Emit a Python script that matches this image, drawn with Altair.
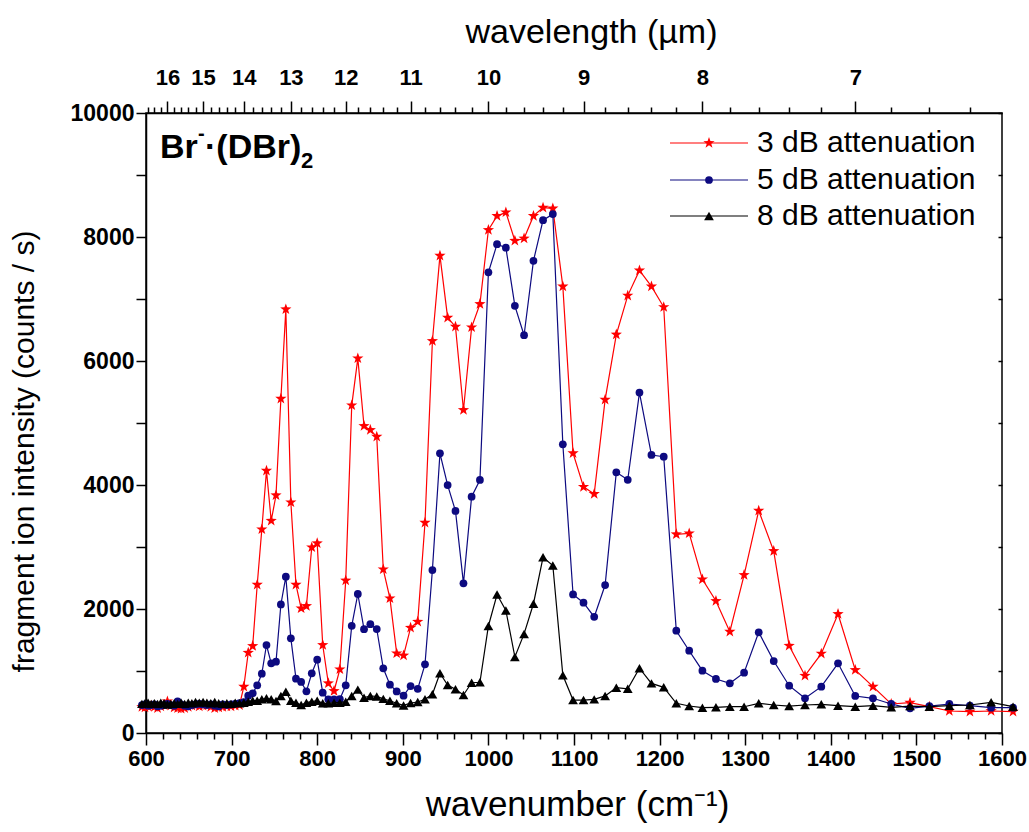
import altair as alt
import pandas as pd

# ---------------- data ----------------
wavelength_um = [16.8, 16.7, 16.6, 16.5, 16.4, 16.3, 16.2, 16.1, 16.0, 15.9, 15.8, 15.7, 15.6, 15.5,
                 15.4, 15.3, 15.2, 15.1, 15.0, 14.9, 14.8, 14.7, 14.6, 14.5, 14.4, 14.3, 14.2, 14.1,
                 14.0, 13.9, 13.8, 13.7, 13.6, 13.5, 13.4, 13.3, 13.2, 13.1, 13.0, 12.9, 12.8, 12.7,
                 12.6, 12.5, 12.4, 12.3, 12.2, 12.1, 12.0, 11.9, 11.8, 11.7, 11.6, 11.5, 11.4, 11.3,
                 11.2, 11.1, 11.0, 10.9, 10.8, 10.7, 10.6, 10.5, 10.4, 10.3, 10.2, 10.1, 10.0, 9.9,
                 9.8, 9.7, 9.6, 9.5, 9.4, 9.3, 9.2, 9.1, 9.0, 8.9, 8.8, 8.7, 8.6, 8.5, 8.4, 8.3, 8.2,
                 8.1, 8.0, 7.9, 7.8, 7.7, 7.6, 7.5, 7.4, 7.3, 7.2, 7.1, 7.0, 6.9, 6.8, 6.7, 6.6, 6.5,
                 6.4, 6.3, 6.2]
wavenumber = [round(1e4 / w, 2) for w in wavelength_um]   # cm^-1

series_names = ["3 dB attenuation", "5 dB attenuation", "8 dB attenuation"]

signal_3dB = [420, 410, 430, 440, 420, 400, 430, 450, 510, 440, 410, 400, 390, 400,
              420, 440, 450, 430, 440, 450, 420, 400, 410, 420, 430, 430, 440, 450,
              747, 1295, 1403, 2392, 3285, 4231, 3424, 3834, 5392, 6834, 3721, 2392, 2011, 2048,
              2995, 3060, 1419, 802, 677, 1027, 2460, 5285, 6043, 4952, 4887, 4779, 2640, 2172,
              1285, 1250, 1698, 1795, 3392, 6323, 7699, 6699, 6554, 5210, 6543, 6919, 8113, 8340,
              8398, 7940, 7976, 8340, 8473, 8461, 7203, 4513, 3970, 3856, 5376, 6427, 7055, 7461,
              7203, 6870, 3205, 3221, 2479, 2129, 1634, 2548, 3586, 2935, 1408, 924, 1280, 1919,
              1016, 747, 468, 489, 424, 355, 344, 355, 344]

signal_5dB = [450, 460, 440, 450, 460, 430, 440, 450, 470, 450, 440, 510, 460, 440,
              430, 450, 460, 470, 460, 450, 460, 440, 430, 460, 450, 460, 470, 480,
              500, 602, 640, 769, 956, 1419, 1124, 1150, 2073, 2521, 1527, 876, 823, 672,
              963, 1182, 650, 543, 543, 545, 770, 1728, 2242, 1675, 1755, 1677, 1043, 780,
              670, 602, 758, 712, 1108, 2629, 4511, 3999, 3581, 2414, 3812, 4081, 7430, 7884,
              7827, 6890, 6416, 7616, 8272, 8369, 4656, 2234, 2102, 1873, 2387, 4205, 4084, 5490,
              4484, 4457, 1650, 1327, 1005, 871, 802, 973, 1624, 1161, 763, 560, 747, 1124,
              597, 560, 468, 398, 435, 468, 441, 408, 408]

signal_8dB = [470, 480, 490, 470, 480, 470, 490, 480, 460, 470, 480, 470, 490, 470,
              490, 480, 500, 490, 500, 490, 480, 500, 480, 470, 480, 470, 490, 480,
              489, 505, 521, 521, 543, 560, 543, 516, 597, 666, 521, 489, 452, 489,
              505, 521, 479, 479, 489, 489, 505, 597, 700, 570, 597, 590, 550, 521,
              479, 445, 484, 500, 545, 624, 963, 774, 705, 613, 811, 818, 1726, 2234,
              1976, 1227, 1598, 2085, 2834, 2702, 931, 531, 531, 542, 598, 731, 713, 1045,
              800, 737, 479, 435, 408, 414, 424, 424, 479, 452, 435, 452, 463, 441,
              424, 441, 414, 435, 424, 441, 452, 495, 424]

# axis tick positions
x_ticks = list(range(600, 1601, 20))
y_ticks = list(range(0, 10001, 1000))
top_ticks_um = [16.6, 16.4, 16.2, 16.0, 15.8, 15.6, 15.4, 15.2, 15.0, 14.8, 14.6, 14.4, 14.2,
                14.0, 13.8, 13.6, 13.4, 13.2, 13.0, 12.8, 12.6, 12.4, 12.2, 12.0, 11.8, 11.6,
                11.4, 11.2, 11.0, 10.8, 10.6, 10.4, 10.2, 10.0, 9.8, 9.6, 9.4, 9.2, 9.0, 8.8,
                8.6, 8.4, 8.2, 8.0, 7.8, 7.6, 7.4, 7.2, 7.0, 6.8, 6.6, 6.4]
top_ticks = [round(1e4 / l, 4) for l in top_ticks_um]

# ---------------- styling ----------------
FONT = "Liberation Sans"
colors = ["#ff0000", "#0d0a80", "#000000"]
STAR = ("M0,-1L0.235,-0.324L0.951,-0.309L0.38,0.124L0.588,0.809L0,0.4"
        "L-0.588,0.809L-0.38,0.124L-0.951,-0.309L-0.235,-0.324Z")
shapes = [STAR, "circle", "triangle-up"]
sizes = [140, 60, 95]

rows = []
for name, vals in zip(series_names, [signal_3dB, signal_5dB, signal_8dB]):
    for wn, v in zip(wavenumber, vals):
        rows.append({"series": name, "wn": wn, "value": v})
df = pd.DataFrame(rows)

x_scale = alt.Scale(domain=[600, 1600], nice=False, zero=False)
y_scale = alt.Scale(domain=[0, 10000], nice=False)

bottom_axis = alt.Axis(
    orient="bottom", values=x_ticks,
    labelExpr="datum.value % 100 === 0 ? format(datum.value, 'd') : ''",
    tickSize={"condition": {"test": "datum.value % 100 === 0", "value": 12}, "value": 6},
    labelPadding=3, labelFontSize=22, labelFontWeight="bold", labelFlush=False, labelOverlap=False,
    title="wavenumber (cm⁻¹)", titleFontSize=35, titleFontWeight="normal",
    titleX=431, titleY=82, titleBaseline="alphabetic",
)
left_axis = alt.Axis(
    orient="left", values=y_ticks,
    labelExpr="datum.value % 2000 === 0 ? format(datum.value, 'd') : ''",
    tickSize=10, labelPadding=2, labelFontSize=23, labelFontWeight="bold", labelOverlap=False,
    title="fragment ion intensity (counts / s)", titleFontSize=30, titleFontWeight="normal",
    titleX=-113, titleY=338, titleBaseline="alphabetic", titleAngle=270,
)
top_axis = alt.Axis(
    orient="top", values=top_ticks,
    labelExpr="abs(10000/datum.value - round(10000/datum.value)) < 0.001 ? format(round(10000/datum.value), 'd') : ''",
    tickSize={"condition": {"test": "abs(10000/datum.value - round(10000/datum.value)) < 0.001", "value": 12}, "value": 6},
    labelPadding=12, labelFontSize=22, labelFontWeight="bold", labelFlush=False, labelOverlap=False,
    title="wavelength (µm)", titleFontSize=34, titleFontWeight="normal",
    titleX=445, titleY=-71, titleBaseline="alphabetic",
)
right_axis = alt.Axis(orient="right", values=y_ticks, labels=False, domain=False,
                      tickSize=4, offset=-4, title=None)

layers = []
for i, (name, color, shape, size) in enumerate(zip(series_names, colors, shapes, sizes)):
    base = alt.Chart(df).transform_filter(alt.datum.series == name)
    layers.append(base.mark_line(color=color, strokeWidth=1.2).encode(
        x=alt.X("wn:Q", scale=x_scale, axis=bottom_axis if i == 0 else None),
        y=alt.Y("value:Q", scale=y_scale, axis=left_axis if i == 0 else None),
    ))
    layers.append(base.mark_point(shape=shape, filled=True, color=color, size=size, opacity=1).encode(
        x=alt.X("wn:Q", scale=x_scale, axis=None),
        y=alt.Y("value:Q", scale=y_scale, axis=None),
    ))

# top wavelength axis and right-side inward ticks
layers.append(alt.Chart(df).mark_point(opacity=0).encode(
    x=alt.X("wn:Q", scale=x_scale, axis=top_axis)))
layers.append(alt.Chart(df).mark_point(opacity=0).encode(
    y=alt.Y("value:Q", scale=y_scale, axis=right_axis)))

# legend (inside, top right)
one = alt.Data(values=[{"k": 0}])
legend_y = [30, 67, 103]
for name, color, shape, size, ly in zip(series_names, colors, shapes, sizes, legend_y):
    layers.append(alt.Chart(one).mark_rule(color=color, strokeWidth=1.2).encode(
        x=alt.value(524), x2=alt.value(602), y=alt.value(ly)))
    layers.append(alt.Chart(one).mark_point(shape=shape, filled=True, color=color, size=size, opacity=1).encode(
        x=alt.value(563), y=alt.value(ly)))
    layers.append(alt.Chart(one).mark_text(text=name, align="left", baseline="middle", font=FONT,
                                           fontSize=30, color="black").encode(
        x=alt.value(611), y=alt.value(ly)))

# species label  Br⁻·(DBr)₂
def label(txt, x, y, size):
    return alt.Chart(one).mark_text(text=txt, align="left", baseline="alphabetic", font=FONT,
                                    fontSize=size, fontWeight="bold", color="black").encode(
        x=alt.value(x), y=alt.value(y))

layers += [label("Br", 14, 45, 34), label("-", 52, 27, 20), label("·(DBr)", 59, 45, 34),
           label("2", 155, 55, 22)]

chart = (
    alt.layer(*layers)
    .resolve_axis(x="independent", y="independent")
    .properties(width=856, height=620, autosize=alt.AutoSizeParams(type="none"),
                padding={"left": 146, "top": 113, "right": 27, "bottom": 99},
                background="white")
    .configure_view(stroke="black", strokeWidth=1.5)
    .configure_axis(domainColor="black", domainWidth=1.5, tickColor="black", tickWidth=1.5,
                    labelColor="black", titleColor="black", labelFont=FONT, titleFont=FONT,
                    grid=False)
)

chart.save("out.html", embed_options={"renderer": "svg", "actions": False})
